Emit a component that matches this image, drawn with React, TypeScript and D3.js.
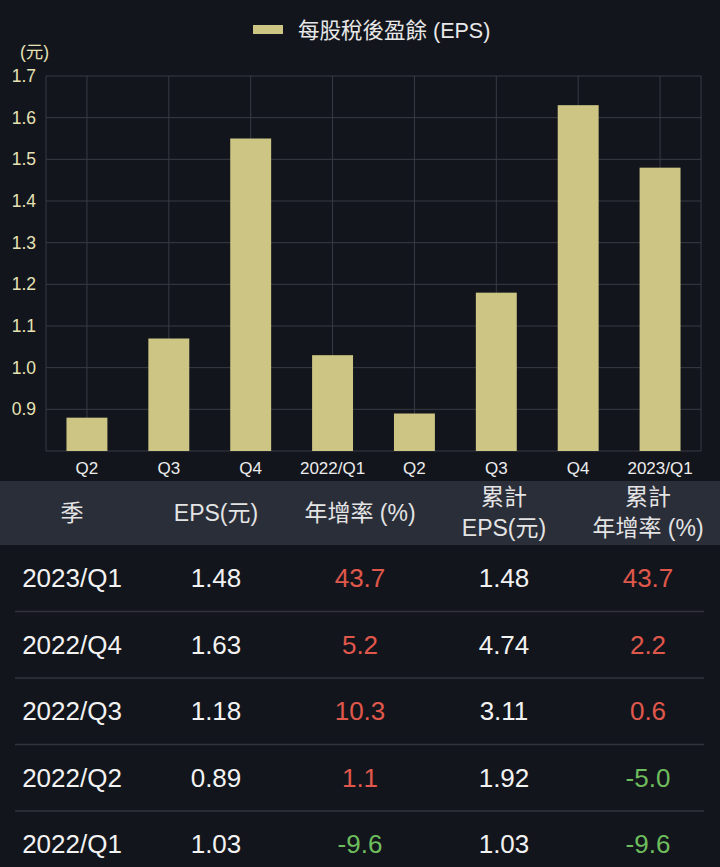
import React from 'react'
import * as d3 from 'd3'

// chart data
const quarters = ['Q2', 'Q3', 'Q4', '2022/Q1', 'Q2', 'Q3', 'Q4', '2023/Q1']
const eps = [0.88, 1.07, 1.55, 1.03, 0.89, 1.18, 1.63, 1.48]
const yTicks = [0.9, 1.0, 1.1, 1.2, 1.3, 1.4, 1.5, 1.6, 1.7]

// table data
const headers = [['季'], ['EPS(元)'], ['年增率 (%)'], ['累計', 'EPS(元)'], ['累計', '年增率 (%)']]
const rowQuarters = ['2023/Q1', '2022/Q4', '2022/Q3', '2022/Q2', '2022/Q1']
const rowEps = ['1.48', '1.63', '1.18', '0.89', '1.03']
const rowYoy = ['43.7', '5.2', '10.3', '1.1', '-9.6']
const rowCumEps = ['1.48', '4.74', '3.11', '1.92', '1.03']
const rowCumYoy = ['43.7', '2.2', '0.6', '-5.0', '-9.6']

const W = 720
const H = 867
const FONT = "'Liberation Sans', 'Noto Sans CJK TC', sans-serif"
const BG = '#13151c'
const BAR = '#ccc584'
const GRID = '#383b45'
const RED = '#e0584b'
const GREEN = '#6dbd5c'

export default function App() {
    const x = d3.scaleBand<number>()
        .domain(d3.range(quarters.length))
        .range([46, 701])
        .paddingInner(0.5)
        .paddingOuter(0.25)

    const y = d3.scaleLinear()
        .domain([0.8, 1.7])
        .range([451, 76])

    const col = d3.scaleBand<number>()
        .domain(d3.range(headers.length))
        .range([0, W])

    const headTop = 481
    const headBottom = 545
    const rowH = 66.5
    const rowY = (i: number) => headBottom + rowH * i + rowH / 2

    const colorOf = (v: string) => (parseFloat(v) < 0 ? GREEN : RED)

    const rows = rowQuarters.map((q, i) => [
        { t: q, c: '#f2f2f2' },
        { t: rowEps[i], c: '#f2f2f2' },
        { t: rowYoy[i], c: colorOf(rowYoy[i]) },
        { t: rowCumEps[i], c: '#f2f2f2' },
        { t: rowCumYoy[i], c: colorOf(rowCumYoy[i]) },
    ])

    return (
        <svg width={W} height={H} style={{ position: 'absolute', left: 0, top: 0, background: BG }} fontFamily={FONT}>
            <rect width={W} height={H} fill={BG} />

            {/* legend */}
            <rect x={253} y={25} width={30} height={9} fill={BAR} />
            <text x={298} y={30} dy="0.35em" fontSize={21.5} fill="#e8e8e8">每股稅後盈餘 (EPS)</text>
            <text x={20} y={52} dy="0.35em" fontSize={17.5} fill="#e6e2b4">(元)</text>

            {/* grid */}
            {yTicks.map(t => (
                <line key={'h' + t} x1={46} x2={701} y1={y(t)} y2={y(t)} stroke={GRID} strokeWidth={1} />
            ))}
            {quarters.map((_, i) => (
                <line key={'v' + i} x1={x(i)! + x.bandwidth() / 2} x2={x(i)! + x.bandwidth() / 2}
                    y1={y(1.7)} y2={y(0.8)} stroke={GRID} strokeWidth={1} />
            ))}
            <line x1={46} x2={46} y1={y(1.7)} y2={y(0.8)} stroke={GRID} />
            <line x1={701} x2={701} y1={y(1.7)} y2={y(0.8)} stroke={GRID} />
            <line x1={46} x2={701} y1={y(0.8)} y2={y(0.8)} stroke={GRID} />

            {/* bars */}
            {eps.map((v, i) => (
                <rect key={'b' + i} x={x(i)} y={y(v)} width={x.bandwidth()} height={y(0.8) - y(v)} fill={BAR} />
            ))}

            {/* y ticks */}
            {yTicks.map(t => (
                <text key={'yt' + t} x={36} y={y(t)} dy="0.35em" textAnchor="end" fontSize={17.5} fill="#e6e2b4">
                    {d3.format('.1f')(t)}
                </text>
            ))}

            {/* x labels */}
            {quarters.map((q, i) => (
                <text key={'xl' + i} x={x(i)! + x.bandwidth() / 2} y={468} dy="0.35em" textAnchor="middle" fontSize={17} fill="#ececec">
                    {q}
                </text>
            ))}

            {/* table header */}
            <rect x={0} y={headTop} width={W} height={headBottom - headTop} fill="#2a2e39" />
            {headers.map((h, i) => (
                <g key={'hd' + i}>
                    {h.map((line, j) => (
                        <text key={j} x={col(i)! + col.bandwidth() / 2}
                            y={h.length === 1 ? 513 : 497 + j * 31} dy="0.35em"
                            textAnchor="middle" fontSize={23} fill="#e4e4e4">
                            {line}
                        </text>
                    ))}
                </g>
            ))}

            {/* table rows */}
            {rows.map((r, i) => (
                <g key={'r' + i}>
                    {i > 0 && (
                        <line x1={15} x2={704} y1={headBottom + rowH * i} y2={headBottom + rowH * i} stroke="#30333c" strokeWidth={1.5} />
                    )}
                    {r.map((cell, j) => (
                        <text key={j} x={col(j)! + col.bandwidth() / 2} y={rowY(i)} dy="0.35em"
                            textAnchor="middle" fontSize={26} fill={cell.c}>
                            {cell.t}
                        </text>
                    ))}
                </g>
            ))}
        </svg>
    )
}
